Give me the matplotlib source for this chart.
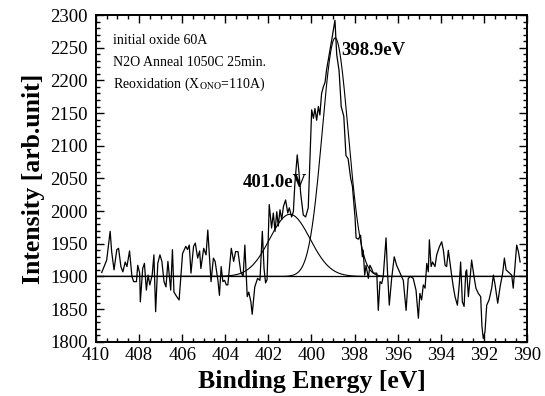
import numpy as np
import matplotlib
matplotlib.use("Agg")
import matplotlib.pyplot as plt
from matplotlib.ticker import MultipleLocator

plt.rcParams['font.family'] = ['Liberation Serif', 'DejaVu Serif']
plt.rcParams['mathtext.fontset'] = 'stix'

# Measured spectrum (binding energy in eV, intensity)
energy = [409.73, 409.50, 409.34, 409.27, 409.16, 409.03, 408.95, 408.84, 408.75, 408.64,
          408.56, 408.44, 408.33, 408.25, 408.12, 408.06, 407.97, 407.94, 407.83, 407.75,
          407.66, 407.58, 407.50, 407.39, 407.31, 407.23, 407.13, 407.03, 406.94, 406.84,
          406.75, 406.66, 406.53, 406.45, 406.38, 406.25, 406.14, 405.98, 405.83, 405.75,
          405.67, 405.59, 405.47, 405.39, 405.28, 405.19, 405.13, 405.00, 404.89, 404.81,
          404.73, 404.66, 404.55, 404.47, 404.34, 404.27, 404.19, 404.11, 404.03, 403.95,
          403.88, 403.72, 403.61, 403.52, 403.41, 403.28, 403.17, 403.09, 402.98, 402.91,
          402.81, 402.75, 402.63, 402.50, 402.39, 402.28, 402.20, 402.13, 402.06, 401.96,
          401.85, 401.77, 401.69, 401.61, 401.54, 401.46, 401.38, 401.30, 401.20, 401.10,
          401.03, 400.92, 400.84, 400.77, 400.66, 400.59, 400.50, 400.38, 400.27, 400.15,
          400.07, 399.99, 399.91, 399.84, 399.76, 399.68, 399.61, 399.53, 399.45, 399.37,
          399.30, 399.22, 399.17, 399.06, 398.91, 398.83, 398.72, 398.62, 398.50, 398.40,
          398.30, 398.18, 398.10, 397.98, 397.93, 397.83, 397.72, 397.64, 397.60, 397.53,
          397.47, 397.36, 397.29, 397.21, 397.13, 396.97, 396.90, 396.82, 396.74, 396.67,
          396.54, 396.48, 396.39, 396.28, 396.16, 396.05, 395.89, 395.74, 395.61, 395.51,
          395.40, 395.28, 395.15, 395.04, 394.97, 394.89, 394.81, 394.73, 394.65, 394.58,
          394.53, 394.45, 394.38, 394.27, 394.19, 394.07, 393.96, 393.88, 393.80, 393.73,
          393.65, 393.57, 393.49, 393.42, 393.34, 393.23, 393.14, 393.08, 393.00, 392.92,
          392.84, 392.80, 392.72, 392.65, 392.57, 392.46, 392.37, 392.26, 392.15, 392.09,
          392.03, 391.95, 391.87, 391.76, 391.64, 391.56, 391.48, 391.36, 391.25, 391.13,
          391.05, 390.97, 390.87, 390.71, 390.64, 390.56, 390.48, 390.40, 390.32]
intensity = [1906, 1925, 1969, 1938, 1910, 1941, 1943, 1915, 1907, 1922,
             1915, 1939, 1900, 1892, 1892, 1917, 1905, 1861, 1912, 1920,
             1879, 1902, 1887, 1902, 1933, 1846, 1920, 1933, 1923, 1892,
             1884, 1923, 1879, 1941, 1876, 1869, 1864, 1935, 1946, 1941,
             1948, 1905, 1946, 1951, 1928, 1939, 1912, 1943, 1933, 1971,
             1928, 1892, 1928, 1923, 1894, 1871, 1915, 1892, 1894, 1887,
             1887, 1943, 1923, 1938, 1938, 1907, 1900, 1948, 1869, 1876,
             1861, 1842, 1884, 1897, 1894, 1969, 1912, 1890, 1895, 2010,
             1974, 1997, 1969, 1999, 1977, 2002, 1987, 2007, 2017, 1997,
             2005, 1991, 1999, 2042, 2086, 2063, 2027, 1994, 1991, 2005,
             2080, 2155, 2142, 2157, 2139, 2160, 2147, 2180, 2190, 2197,
             2216, 2231, 2241, 2262, 2292, 2240, 2215, 2160, 2145, 2085,
             2080, 2050, 2038, 1991, 1959, 1957, 1963, 1930, 1940, 1902,
             1917, 1897, 1917, 1912, 1905, 1905, 1848, 1892, 1889, 1900,
             1959, 1912, 1856, 1897, 1930, 1917, 1905, 1894, 1848, 1897,
             1900, 1897, 1879, 1836, 1874, 1864, 1887, 1882, 1920, 1907,
             1956, 1915, 1922, 1915, 1933, 1945, 1953, 1940, 1917, 1915,
             1940, 1920, 1900, 1884, 1869, 1856, 1889, 1922, 1861, 1854,
             1907, 1910, 1869, 1894, 1925, 1900, 1882, 1874, 1869, 1823,
             1805, 1815, 1856, 1864, 1882, 1902, 1887, 1859, 1884, 1905,
             1928, 1910, 1907, 1902, 1882, 1915, 1948, 1938, 1922]

# Fitted components (Gaussian peaks on a constant background)
baseline = 1900
peak_centers = [401.0, 398.9]
peak_heights = [95, 365]
peak_fwhm = [2.2, 1.42]
peak_labels = ["401.0eV", "398.9eV"]

fig = plt.figure(figsize=(5.45, 3.96), dpi=100)
ax = fig.add_axes([0.176, 0.137, 0.791, 0.825])

ax.plot(energy, intensity, color='black', lw=0.9)
ax.axhline(baseline, color='black', lw=0.9)
xfit = np.linspace(410, 390, 800)
for c, h, w in zip(peak_centers, peak_heights, peak_fwhm):
    s = w / 2.3548
    ax.plot(xfit, baseline + h * np.exp(-0.5 * ((xfit - c) / s) ** 2), color='black', lw=0.8)

ax.set_xlim(410, 390)
ax.set_ylim(1800, 2300)
ax.xaxis.set_major_locator(MultipleLocator(2))
ax.xaxis.set_minor_locator(MultipleLocator(0.5))
ax.yaxis.set_major_locator(MultipleLocator(50))
ax.yaxis.set_minor_locator(MultipleLocator(10))
ax.tick_params(which='both', direction='in', top=True, right=True, width=1.0)
ax.tick_params(which='major', length=6, labelsize=13.5)
ax.tick_params(axis='x', which='major', pad=4)
ax.tick_params(axis='y', which='major', pad=6)
ax.tick_params(which='minor', length=3)
for sp in ax.spines.values():
    sp.set_linewidth(1.4)

ax.set_xlabel("Binding Energy [eV]", fontsize=18.5, fontweight='bold', labelpad=4)
ax.set_ylabel("Intensity [arb.unit]", fontsize=18.5, fontweight='bold', labelpad=4)

ax.text(0.04, 0.921, "initial oxide 60A", transform=ax.transAxes, fontsize=10, va='center')
ax.text(0.04, 0.854, "N2O Anneal 1050C 25min.", transform=ax.transAxes, fontsize=10, va='center')
ax.text(0.04, 0.787, r"Reoxidation (X$_{\mathrm{ONO}}$=110A)", transform=ax.transAxes,
        fontsize=10, va='center')

ax.text(398.6, 2246, peak_labels[1], fontsize=13.5, fontweight='bold', va='center', ha='left')
ax.text(403.18, 2043, peak_labels[0], fontsize=13.5, fontweight='bold', va='center', ha='left')

fig.savefig("out.png", dpi=100)
